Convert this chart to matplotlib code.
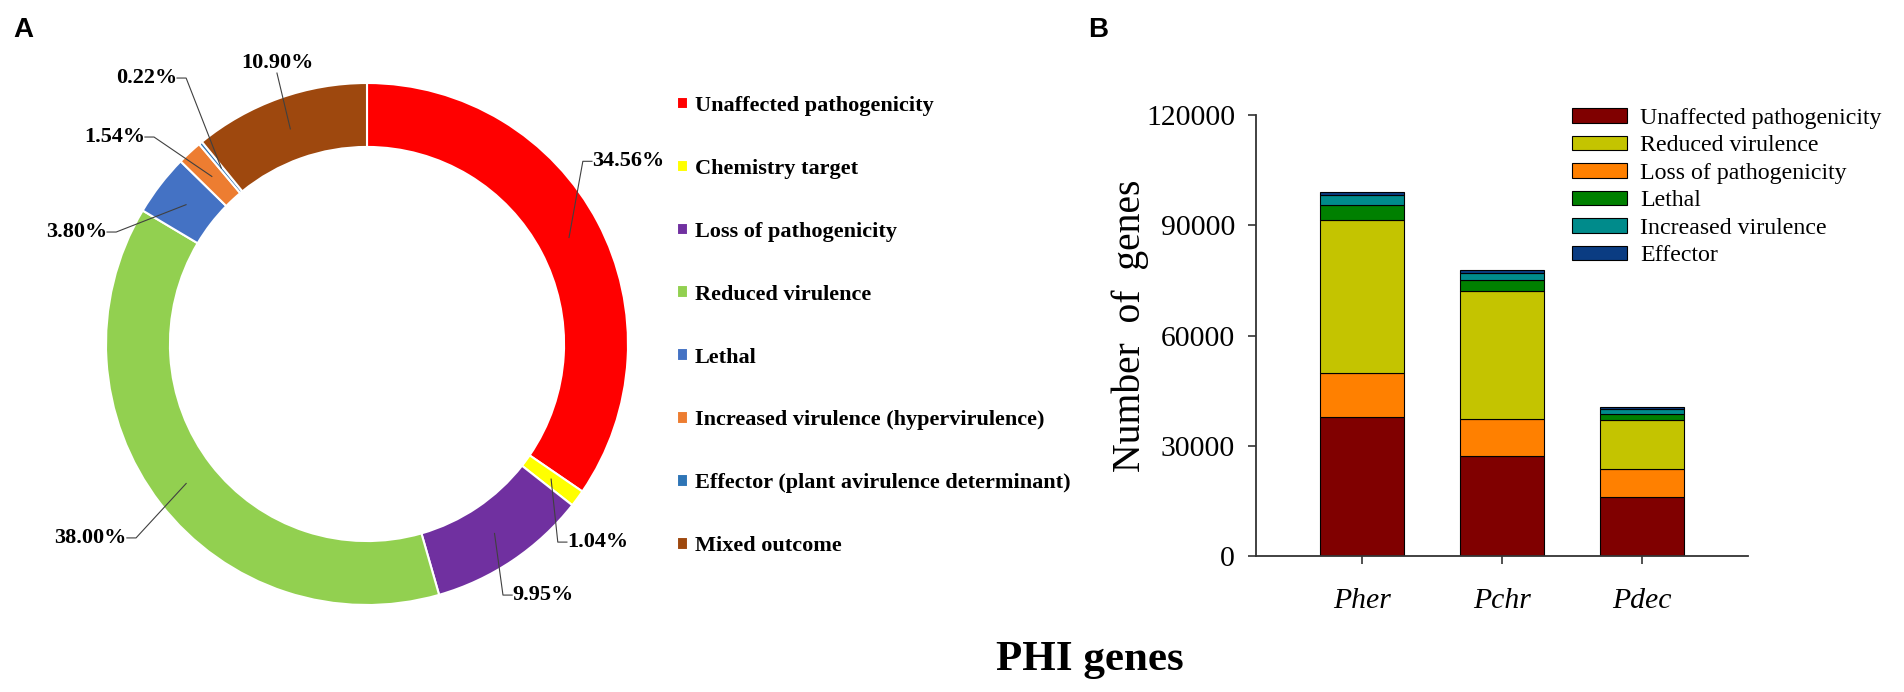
import numpy as np
import matplotlib.pyplot as plt

plt.rcParams['font.family'] = ['Liberation Serif', 'DejaVu Serif']

W, H = 1904, 692

# ---- panel A: share of PHI phenotypes (%) ----
phi_labels = ['Unaffected pathogenicity', 'Chemistry target', 'Loss of pathogenicity',
              'Reduced virulence', 'Lethal', 'Increased virulence (hypervirulence)',
              'Effector (plant avirulence determinant)', 'Mixed outcome']
phi_pct = [34.56, 1.04, 9.95, 38.00, 3.80, 1.54, 0.22, 10.90]
phi_colors = ['#FF0000', '#FFFF00', '#7030A0', '#92D050', '#4472C4', '#ED7D31',
              '#2E75B6', '#9E480E']

# where each percentage label sits (pie units) and how it is aligned
lab_xy = [(0.862, 0.700), (0.766, -0.759), (0.556, -0.962), (-0.920, -0.743),
          (-0.996, 0.429), (-0.851, 0.793), (-0.728, 1.019), (-0.345, 1.038)]
lab_ha = ['left', 'left', 'left', 'right', 'right', 'right', 'right', 'center']

# ---- panel B: number of genes per species ----
species = ['Pher', 'Pchr', 'Pdec']
unaffected = [37700, 27100, 16000]
loss = [12000, 10200, 7600]
reduced = [41800, 34800, 13300]
lethal = [3900, 2900, 1700]
increased = [2900, 2100, 1300]
effector = [700, 600, 700]

bar_names = ['Unaffected pathogenicity', 'Loss of pathogenicity', 'Reduced virulence',
             'Lethal', 'Increased virulence', 'Effector']
bar_colors = ['#800000', '#FF8000', '#C4C400', '#008000', '#008B8B', '#0A3C82']
legend_order = [0, 2, 1, 3, 4, 5]

fig = plt.figure(figsize=(W / 100, H / 100), dpi=100)

# donut
axA = fig.add_axes([106 / W, 1 - 605 / H, 522 / W, 522 / H])
wedges, _ = axA.pie(phi_pct, colors=phi_colors, startangle=90, counterclock=False,
                    radius=1, wedgeprops=dict(width=0.245, edgecolor='white', linewidth=1.5))
axA.set_xlim(-1, 1)
axA.set_ylim(-1, 1)
axA.set_aspect('equal')

for w, p, (tx, ty), ha in zip(wedges, phi_pct, lab_xy, lab_ha):
    ang = np.deg2rad((w.theta1 + w.theta2) / 2)
    px, py = 0.875 * np.cos(ang), 0.875 * np.sin(ang)
    if ha == 'center':
        axA.text(tx, ty, f'{p:.2f}%', ha='center', va='bottom', fontsize=16, fontweight='bold')
        xs, ys = [tx, px], [ty, py]
    else:
        dx = -0.035 if ha == 'left' else 0.035
        axA.text(tx, ty, f'{p:.2f}%', ha=ha, va='center', fontsize=16, fontweight='bold')
        xs, ys = [tx, tx + dx, px], [ty, ty, py]
    axA.plot(xs, ys, color='#404040', lw=0.8, clip_on=False)

axA.legend(wedges, phi_labels, loc='upper left', bbox_to_anchor=(677 / W, 1 - 96 / H),
           bbox_transform=fig.transFigure, frameon=False,
           prop=dict(family='Liberation Serif', weight='bold', size=16),
           handlelength=0.5, handleheight=0.5, handletextpad=0.3,
           labelspacing=1.93, borderpad=0, borderaxespad=0)

# stacked bars
axB = fig.add_axes([1256 / W, 1 - 556 / H, 492 / W, 441 / H])
x = np.arange(len(species))
stack = [unaffected, loss, reduced, lethal, increased, effector]
bottom = np.zeros(len(species))
bars = []
for vals, col, name in zip(stack, bar_colors, bar_names):
    b = axB.bar(x, vals, 0.6, bottom=bottom, color=col, edgecolor='black',
                linewidth=0.8, label=name)
    bars.append(b)
    bottom += np.array(vals)

axB.set_xlim(-0.757, 2.757)
axB.set_ylim(0, 120000)
axB.set_yticks([0, 30000, 60000, 90000, 120000])
axB.set_xticks(x)
axB.set_xticklabels(species, fontstyle='italic')
axB.tick_params(axis='both', labelsize=21.4, direction='out', length=6,
                width=1.2, color='#333333')
axB.tick_params(axis='y', pad=9)
axB.tick_params(axis='x', pad=17)
for s in ['top', 'right']:
    axB.spines[s].set_visible(False)
for s in ['left', 'bottom']:
    axB.spines[s].set_linewidth(1.3)
    axB.spines[s].set_color('#333333')

axB.set_ylabel('Number  of  genes', fontsize=28.5, va='center')
axB.yaxis.set_label_coords(-0.255, 0.522)

axB.legend([bars[i] for i in legend_order], [bar_names[i] for i in legend_order],
           loc='upper left', bbox_to_anchor=(1572 / W, 1 - 108 / H),
           bbox_transform=fig.transFigure, frameon=False, fontsize=17.2,
           handlelength=2.3, handleheight=0.55, handletextpad=0.55,
           labelspacing=0.27, borderpad=0, borderaxespad=0)

fig.text(1090 / W, 1 - 660 / H, 'PHI genes', ha='center', va='center',
         fontsize=31, fontweight='bold')
fig.text(23 / W, 1 - 30 / H, 'A', ha='center', va='center', fontsize=20,
         fontweight='bold', family='Liberation Sans')
fig.text(1098 / W, 1 - 30 / H, 'B', ha='center', va='center', fontsize=20,
         fontweight='bold', family='Liberation Sans')

fig.savefig('out.png', dpi=100)
